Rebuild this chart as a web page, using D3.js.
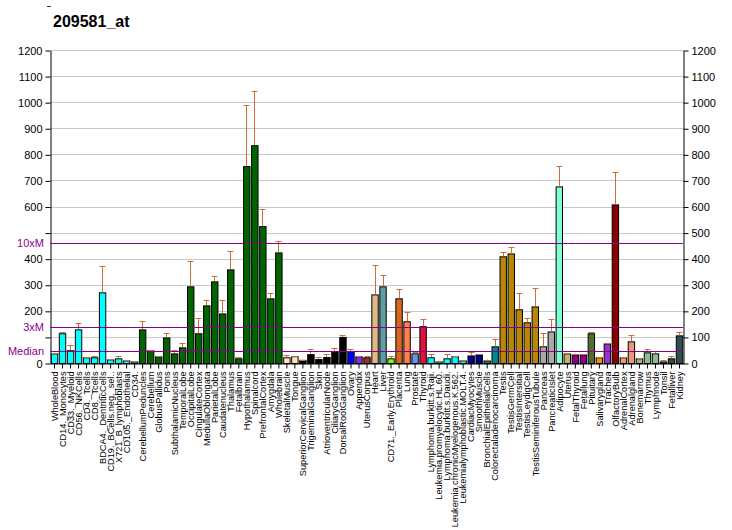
<!DOCTYPE html>
<html>
<head>
<meta charset="utf-8">
<script src="https://cdn.jsdelivr.net/npm/d3@7"></script>
<style>
  body { margin: 0; background: #fff; }
  text { font-family: "Liberation Sans", Arial, sans-serif; }
</style>
</head>
<body>
<script>
const w = 732;
const h = 530;
const plotLeft = 50;
const plotRight = 683;
const plotTop = 50;
const plotBottom = 363;

const tissues = [
  "WholeBlood", "CD14._Monocytes", "CD33._Myeloid", "CD56._NKCells", "CD4._Tcells",
  "CD8._Tcells", "BDCA4._DentriticCells", "CD19._BCells.neg._sel..", "X721_B_lymphoblasts",
  "CD105._Endothelial", "CD34.", "CerebellumPeduncles", "Cerebellum", "GlobusPallidus",
  "Pons", "SubthalamicNucleus", "TemporalLobe", "OccipitalLobe", "CingulateCortex",
  "MedullaOblongata", "ParietalLobe", "Caudatenucleus", "Thalamus", "Fetalbrain",
  "Hypothalamus", "Spinalcord", "PrefrontalCortex", "Amygdala", "Wholebrain",
  "SkeletalMuscle", "Tongue", "SuperiorCervicalGanglion", "TrigeminalGanglion", "Skin",
  "AtrioventricularNode", "CiliaryGanglion", "DorsalRootGanglion", "Ovary", "Appendix",
  "UterusCorpus", "Heart", "Liver", "CD71._Early.Erythroid", "Placenta", "Lung",
  "Prostate", "Thyroid", "Lymphoma.burkitt.s.Raji.", "Leukemia.promyelocytic.HL.60.",
  "Lymphoma.burkitt.s.Daudi.", "Leukemia.chronicMyelogenous.K.562.",
  "Leukemialymphoblastic.MOLT.4.", "CardiacMyocytes", "SmoothMuscle",
  "BronchialEpithelialCells", "Colorectaladenocarcinoma", "Testis", "TestisGermCell",
  "TestisIntersitial", "TestisLeydigCell", "TestisSeminiferousTubule", "Pancreas",
  "PancreaticIslet", "Adipocyte", "Uterus", "FetalThyroid", "Fetallung", "Pituitary",
  "Salivarygland", "Trachea", "OlfactoryBulb", "AdrenalCortex", "Adrenalgland",
  "Bonemarrow", "Thymus", "Lymphnode", "Tonsil", "Fetalliver", "Kidney"
];

const values = [
  37, 114, 49, 129, 22, 22, 271, 14, 18, 10, 6,
  129, 49, 26, 98, 37, 60, 294, 114, 221, 313, 190, 359, 18, 755, 835, 525, 248, 424,
  22, 26, 12, 34, 15, 23, 43, 100, 45, 26, 22, 263, 294, 18, 248, 160, 37, 141,
  22, 6, 18, 26, 10, 29, 33, 10, 64,
  409, 420, 206, 156, 217, 64, 121, 677, 37, 33, 33, 114, 22, 75, 608, 22, 83,
  18, 41, 37, 6, 18, 106
];

const errTops = [
  39, 118, 68, 152, 23, 25, 371, 15, 26, 11, 7,
  160, 50, 27, 114, 49, 75, 390, 171, 240, 332, 240, 428, 22, 989, 1044, 589, 267, 467,
  29, 27, 13, 52, 22, 33, 56, 106, 52, 27, 26, 375, 336, 26, 283, 194, 41, 168,
  33, 7, 33, 27, 11, 41, 34, 13, 91,
  424, 444, 267, 171, 286, 114, 168, 754, 38, 36, 34, 118, 23, 76, 731, 23, 106,
  19, 52, 45, 10, 26, 118
];

const colors = [
  ...Array(11).fill("#00FFFF"),
  ...Array(18).fill("#006400"),
  "#FFE4C4", "#FFE4C4",
  ...Array(6).fill("#000000"),
  "#0000FF", "#8A2BE2", "#A52A2A", "#DEB887", "#5F9EA0", "#7FFF00", "#D2691E",
  "#FF7F50", "#6495ED", "#DC143C",
  ...Array(5).fill("#00FFFF"),
  "#00008B", "#00008B", "#008B8B", "#008B8B",
  ...Array(5).fill("#B8860B"),
  "#A9A9A9", "#A9A9A9", "#7FFFD4", "#BDB76B", "#8B008B", "#8B008B", "#556B2F",
  "#FF8C00", "#9932CC", "#8B0000", "#E9967A", "#E9967A",
  "#8FBC8F", "#8FBC8F", "#8FBC8F", "#483D8B", "#2F4F4F", "#2F4F4F"
];

const yTicks = [0, 100, 200, 300, 400, 500, 600, 700, 800, 900, 1000, 1100, 1200];
const markers = [
  { label: "Median", value: 46 },
  { label: "3xM", value: 138 },
  { label: "10xM", value: 460 }
];

const svg = d3.select("body").append("svg").attr("width", w).attr("height", h);

const x = d3.scaleBand().domain(d3.range(tissues.length)).range([plotLeft, plotRight])
  .paddingInner(0.2).paddingOuter(0.1);
const y = d3.scaleLinear().domain([0, 1200]).range([plotBottom, plotTop]);

svg.append("text").attr("x", 53).attr("y", 27)
  .style("font-size", "16px").style("font-weight", "bold").text("209581_at");
svg.append("line").attr("x1", 47).attr("x2", 51).attr("y1", 6.5).attr("y2", 6.5)
  .style("stroke", "#800080");

// grid
svg.append("g").selectAll("line").data(yTicks.slice(1)).join("line")
  .attr("x1", plotLeft).attr("x2", plotRight)
  .attr("y1", (d) => Math.round(y(d)) + 0.5).attr("y2", (d) => Math.round(y(d)) + 0.5)
  .style("stroke", "#c8c8c8");

// left axis: hide labels that collide with marker labels
const hidden = [100, 500];
const yLeft = d3.axisLeft(y).tickValues(yTicks).tickSize(5).tickSizeOuter(0)
  .tickFormat((d) => (hidden.includes(d) ? "" : d));
const gl = svg.append("g").attr("transform", `translate(${plotLeft + 0.5},0.5)`).call(yLeft);
const yRight = d3.axisRight(y).tickValues(yTicks).tickSize(5).tickSizeOuter(0)
  .tickFormat(d3.format("d"));
const gr = svg.append("g").attr("transform", `translate(${plotRight + 0.5},0.5)`).call(yRight);
[gl, gr].forEach((g) => {
  g.selectAll("text").style("font-size", "11px").attr("fill", "#000");
  g.selectAll("line,path").attr("stroke", "#000");
});

// bars
svg.append("g").selectAll("rect").data(values).join("rect")
  .attr("x", (d, i) => x(i) + 0.5)
  .attr("y", (d) => y(d) + 0.5)
  .attr("width", x.bandwidth())
  .attr("height", (d) => plotBottom - y(d))
  .attr("fill", (d, i) => colors[i])
  .attr("stroke", "#000").attr("stroke-width", 1);

// error bars
const eg = svg.append("g").style("stroke", "#C8703A").attr("stroke-width", 1);
errTops.forEach((e, i) => {
  if (e <= values[i]) return;
  const cx = Math.round(x(i) + x.bandwidth() / 2) + 0.5;
  eg.append("line").attr("x1", cx).attr("x2", cx).attr("y1", y(values[i])).attr("y2", y(e));
  eg.append("line").attr("x1", cx - 3).attr("x2", cx + 3)
    .attr("y1", Math.round(y(e)) + 0.5).attr("y2", Math.round(y(e)) + 0.5);
});

// marker lines
svg.append("g").selectAll("rect").data(markers).join("rect")
  .attr("x", plotLeft).attr("width", plotRight - plotLeft)
  .attr("y", (d) => Math.round(y(d.value))).attr("height", 1)
  .style("fill", "#8B008B").attr("shape-rendering", "crispEdges");
svg.append("g").selectAll("text").data(markers).join("text")
  .attr("x", 44).attr("y", (d) => y(d.value) + 4)
  .attr("text-anchor", "end").attr("fill", "#8B008B")
  .style("font-size", "11px").text((d) => d.label);

// x axis
const xAxis = d3.axisBottom(x).tickSize(5).tickSizeOuter(0).tickFormat((i) => tissues[i]);
const gx = svg.append("g").attr("transform", `translate(0.5,${plotBottom + 0.5})`).call(xAxis);
gx.selectAll("line,path").attr("stroke", "#000");
gx.selectAll("text")
  .attr("transform", "rotate(-90)")
  .attr("x", -8).attr("y", 0).attr("dy", "0.35em")
  .attr("text-anchor", "end").attr("fill", "#000")
  .style("font-size", "9.2px");
</script>
</body>
</html>
